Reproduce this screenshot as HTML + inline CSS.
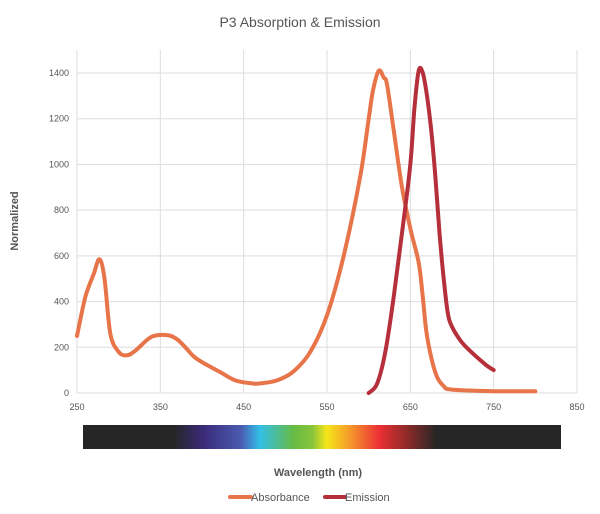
<!DOCTYPE html>
<html><head><meta charset="utf-8"><style>
body{margin:0;background:#fff;font-family:"Liberation Sans",sans-serif;}
</style></head><body>
<svg width="600" height="509">
<defs><linearGradient id="spec" x1="0" x2="1" y1="0" y2="0">
<stop offset="0" stop-color="#262626"/><stop offset="0.19" stop-color="#262626"/>
<stop offset="0.25" stop-color="#3a2a78"/><stop offset="0.33" stop-color="#4a5ab0"/>
<stop offset="0.37" stop-color="#33bfe8"/><stop offset="0.44" stop-color="#66bb44"/>
<stop offset="0.48" stop-color="#88c43a"/><stop offset="0.51" stop-color="#f6e61a"/>
<stop offset="0.56" stop-color="#f5962a"/><stop offset="0.62" stop-color="#ec2f35"/>
<stop offset="0.68" stop-color="#8a2a28"/><stop offset="0.74" stop-color="#262626"/>
<stop offset="1" stop-color="#262626"/></linearGradient></defs>
<text x="300" y="27" text-anchor="middle" font-size="14" fill="#555">P3 Absorption &amp; Emission</text>
<g id="grid"></g><g id="series"></g>
<text transform="translate(18,221) rotate(-90)" text-anchor="middle" font-size="11" font-weight="bold" fill="#555">Normalized</text>
<rect x="83" y="425" width="478" height="24" fill="url(#spec)"/>
<text x="318" y="476" text-anchor="middle" font-size="11" font-weight="bold" fill="#555">Wavelength (nm)</text>
<g><line x1="230" y1="497" x2="251" y2="497" stroke="#e8744a" stroke-width="4" stroke-linecap="round"/><text x="251" y="501" font-size="11" fill="#555">Absorbance</text></g>
<g><line x1="325" y1="497" x2="345" y2="497" stroke="#b5303a" stroke-width="4" stroke-linecap="round"/><text x="345" y="501" font-size="11" fill="#555">Emission</text></g>
</svg>
<script>
const xTicks=[250,350,450,550,650,750,850];
const yTicks=[0,200,400,600,800,1000,1200,1400];
const absX=[250,260,270,277,283,290,300,310,320,335,345,360,370,380,390,400,420,440,460,470,490,510,530,550,570,590,600,605,612,618,622,630,640,650,660,665,670,680,690,700,750,800];
const absY=[250,420,520,585,500,260,180,165,185,235,252,252,235,200,160,135,95,55,42,42,55,95,180,340,600,950,1200,1320,1410,1380,1350,1150,900,720,570,420,250,90,30,15,8,8];
const emX=[600,610,620,630,640,650,655,660,665,670,675,680,685,690,695,700,710,720,740,750];
const emY=[0,40,180,420,700,1000,1250,1410,1400,1300,1150,950,700,500,350,290,230,190,125,100];
const X=v=>77+(v-250)*500/600, Y=v=>393-v*320/1400;
const ns="http://www.w3.org/2000/svg";
const g=document.getElementById('grid'), s=document.getElementById('series');
xTicks.forEach(t=>{
 const l=document.createElementNS(ns,'line');
 
 
 l.setAttribute('x1',X(t));l.setAttribute('x2',X(t));l.setAttribute('y1',50);l.setAttribute('y2',393);
 l.setAttribute('stroke','#ddd');g.appendChild(l);
 const tx=document.createElementNS(ns,'text');
 
 
 tx.setAttribute('x',X(t));tx.setAttribute('y',410);tx.setAttribute('text-anchor','middle');
 tx.setAttribute('font-size','9');tx.setAttribute('fill','#555');tx.textContent=t;g.appendChild(tx);
});
yTicks.forEach(t=>{
 const l=document.createElementNS(ns,'line');
 
 
 l.setAttribute('x1',77);l.setAttribute('x2',577);l.setAttribute('y1',Y(t));l.setAttribute('y2',Y(t));
 l.setAttribute('stroke','#ddd');g.appendChild(l);
 const tx=document.createElementNS(ns,'text');
 
 
 tx.setAttribute('x',69);tx.setAttribute('y',Y(t)+3);tx.setAttribute('text-anchor','end');
 tx.setAttribute('font-size','9');tx.setAttribute('fill','#555');tx.textContent=t;g.appendChild(tx);
});
function path(xs,ys,c,name){
 const pts=xs.map((x,i)=>[X(x),Y(ys[i])]);
 let d='M'+pts[0][0].toFixed(1)+','+pts[0][1].toFixed(1);
 for(let i=0;i<pts.length-1;i++){
  const p0=pts[i-1]||pts[i],p1=pts[i],p2=pts[i+1],p3=pts[i+2]||p2;
  const c1=[p1[0]+(p2[0]-p0[0])/6,p1[1]+(p2[1]-p0[1])/6];
  const c2=[p2[0]-(p3[0]-p1[0])/6,p2[1]-(p3[1]-p1[1])/6];
  d+='C'+c1.map(v=>v.toFixed(1)).join(',')+' '+c2.map(v=>v.toFixed(1)).join(',')+' '+p2.map(v=>v.toFixed(1)).join(',');
 }
 const p=document.createElementNS(ns,'path');
 
 
 p.setAttribute('d',d);
 p.setAttribute('fill','none');p.setAttribute('stroke',c);p.setAttribute('stroke-width','4');
 p.setAttribute('stroke-linejoin','round');p.setAttribute('stroke-linecap','round');s.appendChild(p);
}
path(absX,absY,'#e8744a','absorbance-line');
path(emX,emY,'#b5303a','emission-line');
</script>
</body></html>
